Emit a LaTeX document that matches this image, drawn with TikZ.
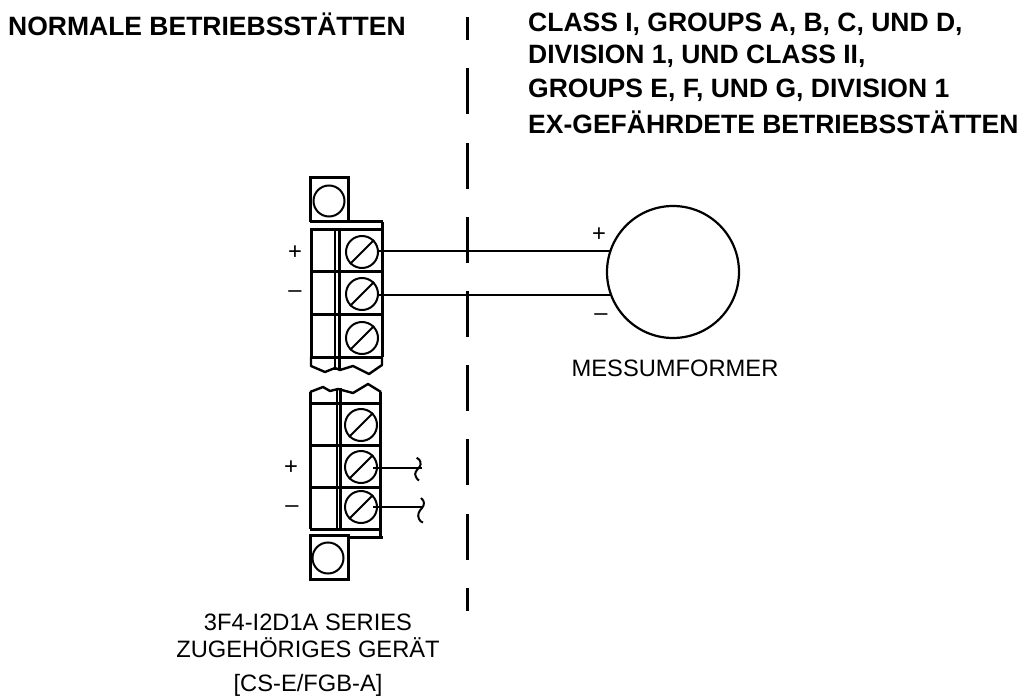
\documentclass[tikz,border=0pt]{standalone}
\usepackage{fontspec}
\setmainfont{Liberation Sans}
\tikzset{
  heavy/.style={line width=3pt},
  dbl/.style={line width=2.4pt},
  wavy/.style={line width=2.4pt,line join=round},
  screwc/.style={circle,draw,line width=2pt,minimum size=32pt,inner sep=0pt},
  tabc/.style={circle,draw,line width=2pt,minimum size=31pt,inner sep=0pt},
  wire/.style={line width=2.8pt},
  dashl/.style={line width=3pt},
  title/.style={font=\bfseries\fontsize{26.5}{32}\selectfont,anchor=west,inner sep=0pt},
  lab/.style={font=\fontsize{23.7}{26}\selectfont,inner sep=0pt},
  sign/.style={font=\fontsize{23.7}{26}\selectfont,inner sep=0pt}
}
\begin{document}
\begin{tikzpicture}[x=1pt,y=-1pt]
\useasboundingbox (0,0) rectangle (1024,700);
\node[title] (t1) at (8,24) {NORMALE BETRIEBSSTÄTTEN};
\node[title] (t2) at (528,24) {CLASS I, GROUPS A, B, C, UND D,};
\node[title] (t3) at (528,56) {DIVISION 1, UND CLASS II,};
\node[title] (t4) at (528,90) {GROUPS E, F, UND G, DIVISION 1};
\node[title] (t5) at (528,122) {EX-GEFÄHRDETE BETRIEBSSTÄTTEN};
\foreach \a/\b in {17/40,68/114,143/189,217/263,291/337,365/411,439/485,514/560,588/611}
  \draw[dashl] (467.5,\a) -- (467.5,\b);
% upper block
\draw[heavy] (310,222) -- (310,178) -- (348,178) -- (348,222);
\node[tabc] (tab1) at (329,201) {};
\draw[heavy] (310,222) -- (383,222) (310,230) -- (383,230);
\draw[heavy] (382,222) -- (382,230);
\draw[heavy] (311,230) -- (311,357) (382,230) -- (382,357);
\draw[dbl] (335,230) -- (335,370) (339.5,230) -- (339.5,370);
\draw[heavy] (311,272) -- (383,272) (311,314) -- (383,314) (311,357) -- (383,357);
\draw[wavy] (311,357) -- (311,366) -- (325,372) -- (335,368) -- (340,370) -- (353,366) -- (369,374) -- (382,365) -- (382,357);
\node[screwc] (s1) at (362,252) {};
\node[screwc] (s2) at (362,294) {};
\node[screwc] (s3) at (362,338) {};
% lower block
\draw[heavy] (310,529) -- (310,392) (380,392) -- (380,537);
\draw[dbl] (337,388) -- (337,529) (340.5,388) -- (340.5,529);
\draw[wavy] (310,392) -- (323,387) -- (330,391) -- (338,389) -- (353,393) -- (368,384) -- (381,392);
\draw[heavy] (310,403) -- (381,403) (310,445) -- (381,445) (310,487) -- (381,487) (310,529) -- (381,529);
\draw[heavy] (348,537) -- (383,537);
\draw[heavy] (310,535) -- (348,535) -- (348,579) -- (310,579) -- cycle;
\node[tabc] (tab2) at (328,558) {};
\node[screwc] (s4) at (361,425) {};
\node[screwc] (s5) at (361,467) {};
\node[screwc] (s6) at (361,507) {};
% screw slots
\foreach \n in {s1,s2,s3,s4,s5,s6}
  \draw[line width=2pt] (\n.north east) -- (\n.south west);
% transmitter
\node[circle,draw,line width=2.2pt,minimum size=132pt,inner sep=0pt] (xm) at (673,272) {};
\coordinate (e1) at (610.5,251);
\coordinate (e2) at (611.5,295);
\draw[wire] (s1.east |- e1) -- (e1);
\draw[wire] (s2.east |- e2) -- (e2);
% stubs
\coordinate (q1) at (422,468);
\coordinate (q2) at (423,507);
\coordinate (b1) at (373,468);
\coordinate (b2) at (373,507);
\draw[wire] (b1) -- (q1);
\draw[wire] (b2) -- (q2);
\draw[line width=2pt] (416.7,457.7) .. controls (421,460) and (421.5,464) .. (419.5,467) .. controls (417,470) and (413.5,473) .. (416,477) .. controls (417,479) and (418,480) .. (419,480.5);
\draw[line width=2pt] (421,498) .. controls (425,501) and (424.5,505) .. (422,508) .. controls (419,511) and (417,515) .. (419,519) .. controls (420,521) and (421,522) .. (423,522.5);
% signs
\node[sign] (p1) at (295,253) {+};
\node[sign] (m1) at (295,294) {–};
\node[sign] (p2) at (291,468) {+};
\node[sign] (m2) at (292,509) {–};
\node[sign] (p3) at (599,235) {+};
\node[sign] (m3) at (601,317) {–};
% labels
\node[lab] (l1) at (675,368) {MESSUMFORMER};
\node[lab] (l2) at (308,622) {3F4-I2D1A SERIES};
\node[lab] (l3) at (308,648) {ZUGEHÖRIGES GERÄT};
\node[lab] (l4) at (308,685) {[CS-E/FGB-A]};
\end{tikzpicture}
\end{document}
